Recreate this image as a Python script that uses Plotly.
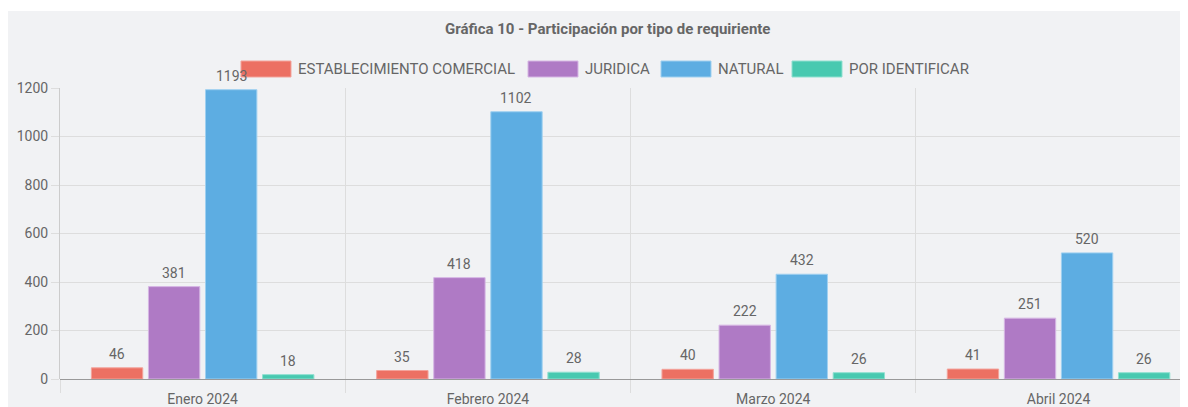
import plotly.graph_objects as go

categories = ["Enero 2024", "Febrero 2024", "Marzo 2024", "Abril 2024"]
series_names = ["ESTABLECIMIENTO COMERCIAL", "JURIDICA", "NATURAL", "POR IDENTIFICAR"]
establecimiento = [46, 35, 40, 41]
juridica = [381, 418, 222, 251]
natural = [1193, 1102, 432, 520]
por_identificar = [18, 28, 26, 26]
y_ticks = [0, 200, 400, 600, 800, 1000, 1200]
title_text = "Gráfica 10 - Participación por tipo de requiriente"

series_values = [establecimiento, juridica, natural, por_identificar]
fill_colors = ["#ec7063", "#af7ac5", "#5dade2", "#48c9b0"]
line_colors = ["#f3a39b", "#d6b6e4", "#9fd0f0", "#8fe0d0"]

# the page body has an 8px margin; the figure fills the rest of the window
OFF = 8
W, H = 1188 - OFF, 407 - OFF
# plot area in screen pixels: x 60..1188, y 88..379
L, R, T, B = 60 - OFF, 0, 88 - OFF, 407 - 379
pw, ph = W - L - R, H - T - B
cat_px = 285.3
bargap, bargroupgap = 0.2, 0.1

def px_x(p):
    # screen pixel -> paper x
    return (p - OFF - L) / pw

def px_y(p):
    # screen pixel -> paper y
    return (H - B - (p - OFF)) / ph

fig = go.Figure()
annotations = []
n = len(series_names)
slot = cat_px * (1 - bargap) / n
for i, (name, vals, fc, lc) in enumerate(zip(series_names, series_values, fill_colors, line_colors)):
    fig.add_trace(go.Bar(
        x=categories, y=vals, name=name,
        marker=dict(color=fc, line=dict(color=lc, width=1)),
        showlegend=False,
    ))
    xs = (i - (n - 1) / 2) * slot
    for c, v in zip(categories, vals):
        annotations.append(dict(
            text=str(v), x=c, y=v, xref="x", yref="y", xshift=xs, yshift=4,
            xanchor="center", yanchor="bottom", showarrow=False,
            font=dict(family="Roboto", size=14, color="#666666"),
        ))

shapes = [
    # white strip at the top of the card
    dict(type="rect", xref="paper", yref="paper", x0=px_x(0), x1=px_x(1200), y0=px_y(11), y1=px_y(0),
         fillcolor="white", line=dict(width=0), layer="below"),
]
annotations.append(
    dict(text="<b>" + title_text + "</b>", xref="paper", yref="paper", x=px_x(607), y=px_y(29),
         xanchor="center", yanchor="middle", showarrow=False,
         font=dict(family="Roboto", size=15, color="#666666")))

# custom legend (wide boxes like the reference)
legend_box_x = [241, 528, 661, 792]
box_w, box_h, legend_cy = 50, 16, 69
for name, fc, lc, bx in zip(series_names, fill_colors, line_colors, legend_box_x):
    shapes.append(dict(type="rect", xref="paper", yref="paper",
                       x0=px_x(bx), x1=px_x(bx + box_w),
                       y0=px_y(legend_cy + box_h / 2), y1=px_y(legend_cy - box_h / 2),
                       fillcolor=fc, line=dict(color=lc, width=1)))
    annotations.append(dict(text=name, xref="paper", yref="paper", x=px_x(bx + box_w + 5), y=px_y(legend_cy),
                            xanchor="left", yanchor="middle", showarrow=False,
                            font=dict(family="Roboto", size=15, color="#666666")))

fig.update_layout(
    width=W, height=H,
    margin=dict(l=L, r=R, t=T, b=B, pad=0),
    paper_bgcolor="#f1f2f4", plot_bgcolor="#f1f2f4",
    barmode="group", bargap=bargap, bargroupgap=bargroupgap,
    shapes=shapes, annotations=annotations,
    font=dict(family="Roboto", color="#666666"),
    xaxis=dict(
        type="category", range=[-0.5, -0.5 + pw / cat_px],
        tickson="boundaries", showgrid=True, gridcolor="#dddddd", gridwidth=1,
        ticks="outside", ticklen=13, tickcolor="#dddddd",
        ticklabelstandoff=10,
        showline=False, zeroline=False,
        tickfont=dict(family="Roboto", size=14, color="#666666"),
    ),
    yaxis=dict(
        range=[0, 1200], tickvals=y_ticks, ticktext=[str(v) for v in y_ticks],
        showgrid=True, gridcolor="#dddddd", gridwidth=1,
        ticks="outside", ticklen=8, tickcolor="#dddddd",
        showline=True, linecolor="#cccccc", linewidth=1,
        zeroline=True, zerolinecolor="#999999", zerolinewidth=1,
        tickfont=dict(family="Roboto", size=14, color="#666666"),
    ),
)

fig.write_html("out.html")
